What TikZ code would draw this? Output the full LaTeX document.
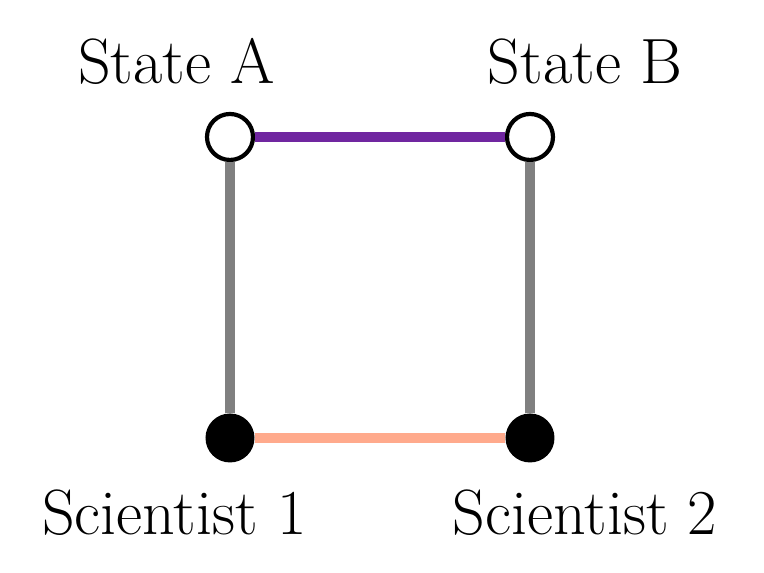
\documentclass[tikz,border=0pt]{standalone}
\usepackage{tikz}
\usetikzlibrary{positioning}
\usepackage{xcolor}
\definecolor{statepurple}{RGB}{112,38,160}
\definecolor{scisalmon}{RGB}{255,170,140}
\definecolor{linkgrey}{RGB}{128,128,128}

\begin{document}
\begin{tikzpicture}[font=\fontsize{18.2}{22}\selectfont,
  state/.style={circle, draw=black, line width=1.2pt, fill=white, minimum size=0.46cm, inner sep=0pt},
  scientist/.style={circle, fill=black, minimum size=0.49cm, inner sep=0pt},
  link/.style={line width=2.8pt}]
  \useasboundingbox (0,0) rectangle (7.64,5.73);
  % Corners of the square
  \node[state] (stateA) at (2.30,4.36) {};
  \node[state] (stateB) at (5.30,4.36) {};
  \node[scientist] (sci1) at (2.30,1.35) {};
  \node[scientist] (sci2) at (5.30,1.35) {};
  % Edges between the corners
  \draw[link, linkgrey] (stateA) -- (sci1);
  \draw[link, linkgrey] (stateB) -- (sci2);
  \draw[link, statepurple] (stateA) -- (stateB);
  \draw[link, scisalmon] (sci1) -- (sci2);
  % Labels
  \node[anchor=base] (labA) at (1.765,4.89) {State A};
  \node[anchor=base] (labB) at (5.85,4.89) {State B};
  \node[anchor=base] (lab1) at (1.745,0.38) {Scientist 1};
  \node[anchor=base] (lab2) at (5.85,0.38) {Scientist 2};
\end{tikzpicture}
\end{document}
